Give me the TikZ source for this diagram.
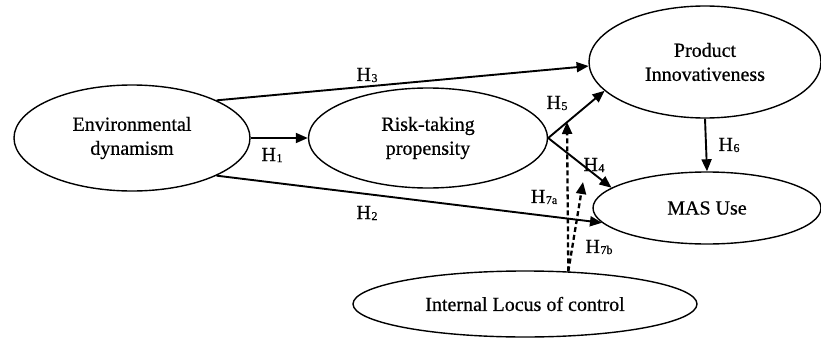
\documentclass[tikz,border=0pt]{standalone}
\usepackage{fontspec}
\setmainfont{Liberation Serif}[FakeBold=0.6]
\usetikzlibrary{arrows.meta,shapes.geometric}
\tikzset{
  oval/.style={draw, ellipse, line width=1.4pt, inner sep=0pt, align=center,
    font=\fontsize{20}{24}\selectfont},
  link/.style={line width=1.9pt, -{Triangle[length=12pt,width=10pt]}},
  dlink/.style={line width=2.3pt, dash pattern=on 5pt off 3pt, -{Triangle[length=12pt,width=10pt]}},
  hlab/.style={font=\fontsize{20}{24}\selectfont, inner sep=0pt}
}
\newcommand{\hs}[1]{H\kern0.5pt{\fontsize{12}{12}\selectfont\raisebox{-1pt}{#1}}}
\begin{document}
\begin{tikzpicture}[x=1pt,y=-1pt]
\useasboundingbox (0,0) rectangle (821,337);
\node[oval, minimum width=236pt, minimum height=106pt] (env) at (132,138) {Environmental\\dynamism};
\node[oval, minimum width=239pt, minimum height=100pt] (risk) at (428,138) {Risk-taking\\propensity};
\node[oval, minimum width=232pt, minimum height=112pt] (prod) at (705,62) {Product\\Innovativeness};
\node[oval, minimum width=228pt, minimum height=72pt] (mas) at (707,208) {MAS Use};
\node[oval, minimum width=344pt, minimum height=66pt] (loc) at (525,304) {Internal Locus of control};
\coordinate (ls) at (loc.37);
\coordinate (h7atip) at (567,122);
\coordinate (h7btip) at (583,182);
\draw[link] (env.east) -- (risk.west);
\draw[link] (env.24) -- (prod.182);
\draw[link] (env.-24) -- (mas.188);
\draw[link] (risk.east) -- (prod.196);
\draw[link] (risk.east) -- (mas.168);
\draw[link] (prod.south) -- (mas.north);
\draw[dlink] (ls) -- (h7atip);
\draw[dlink] (ls) -- (h7btip);
\node[hlab] (l1) at (272,155) {\hs{1}};
\node[hlab] (l2) at (367,213) {\hs{2}};
\node[hlab] (l3) at (367,75) {\hs{3}};
\node[hlab] (l4) at (594,165) {\hs{4}};
\node[hlab] (l5) at (557,103) {\hs{5}};
\node[hlab] (l6) at (729,145) {\hs{6}};
\node[hlab] (l7a) at (544,197) {\hs{7a}};
\node[hlab] (l7b) at (599,247) {\hs{7b}};
\end{tikzpicture}
\end{document}
